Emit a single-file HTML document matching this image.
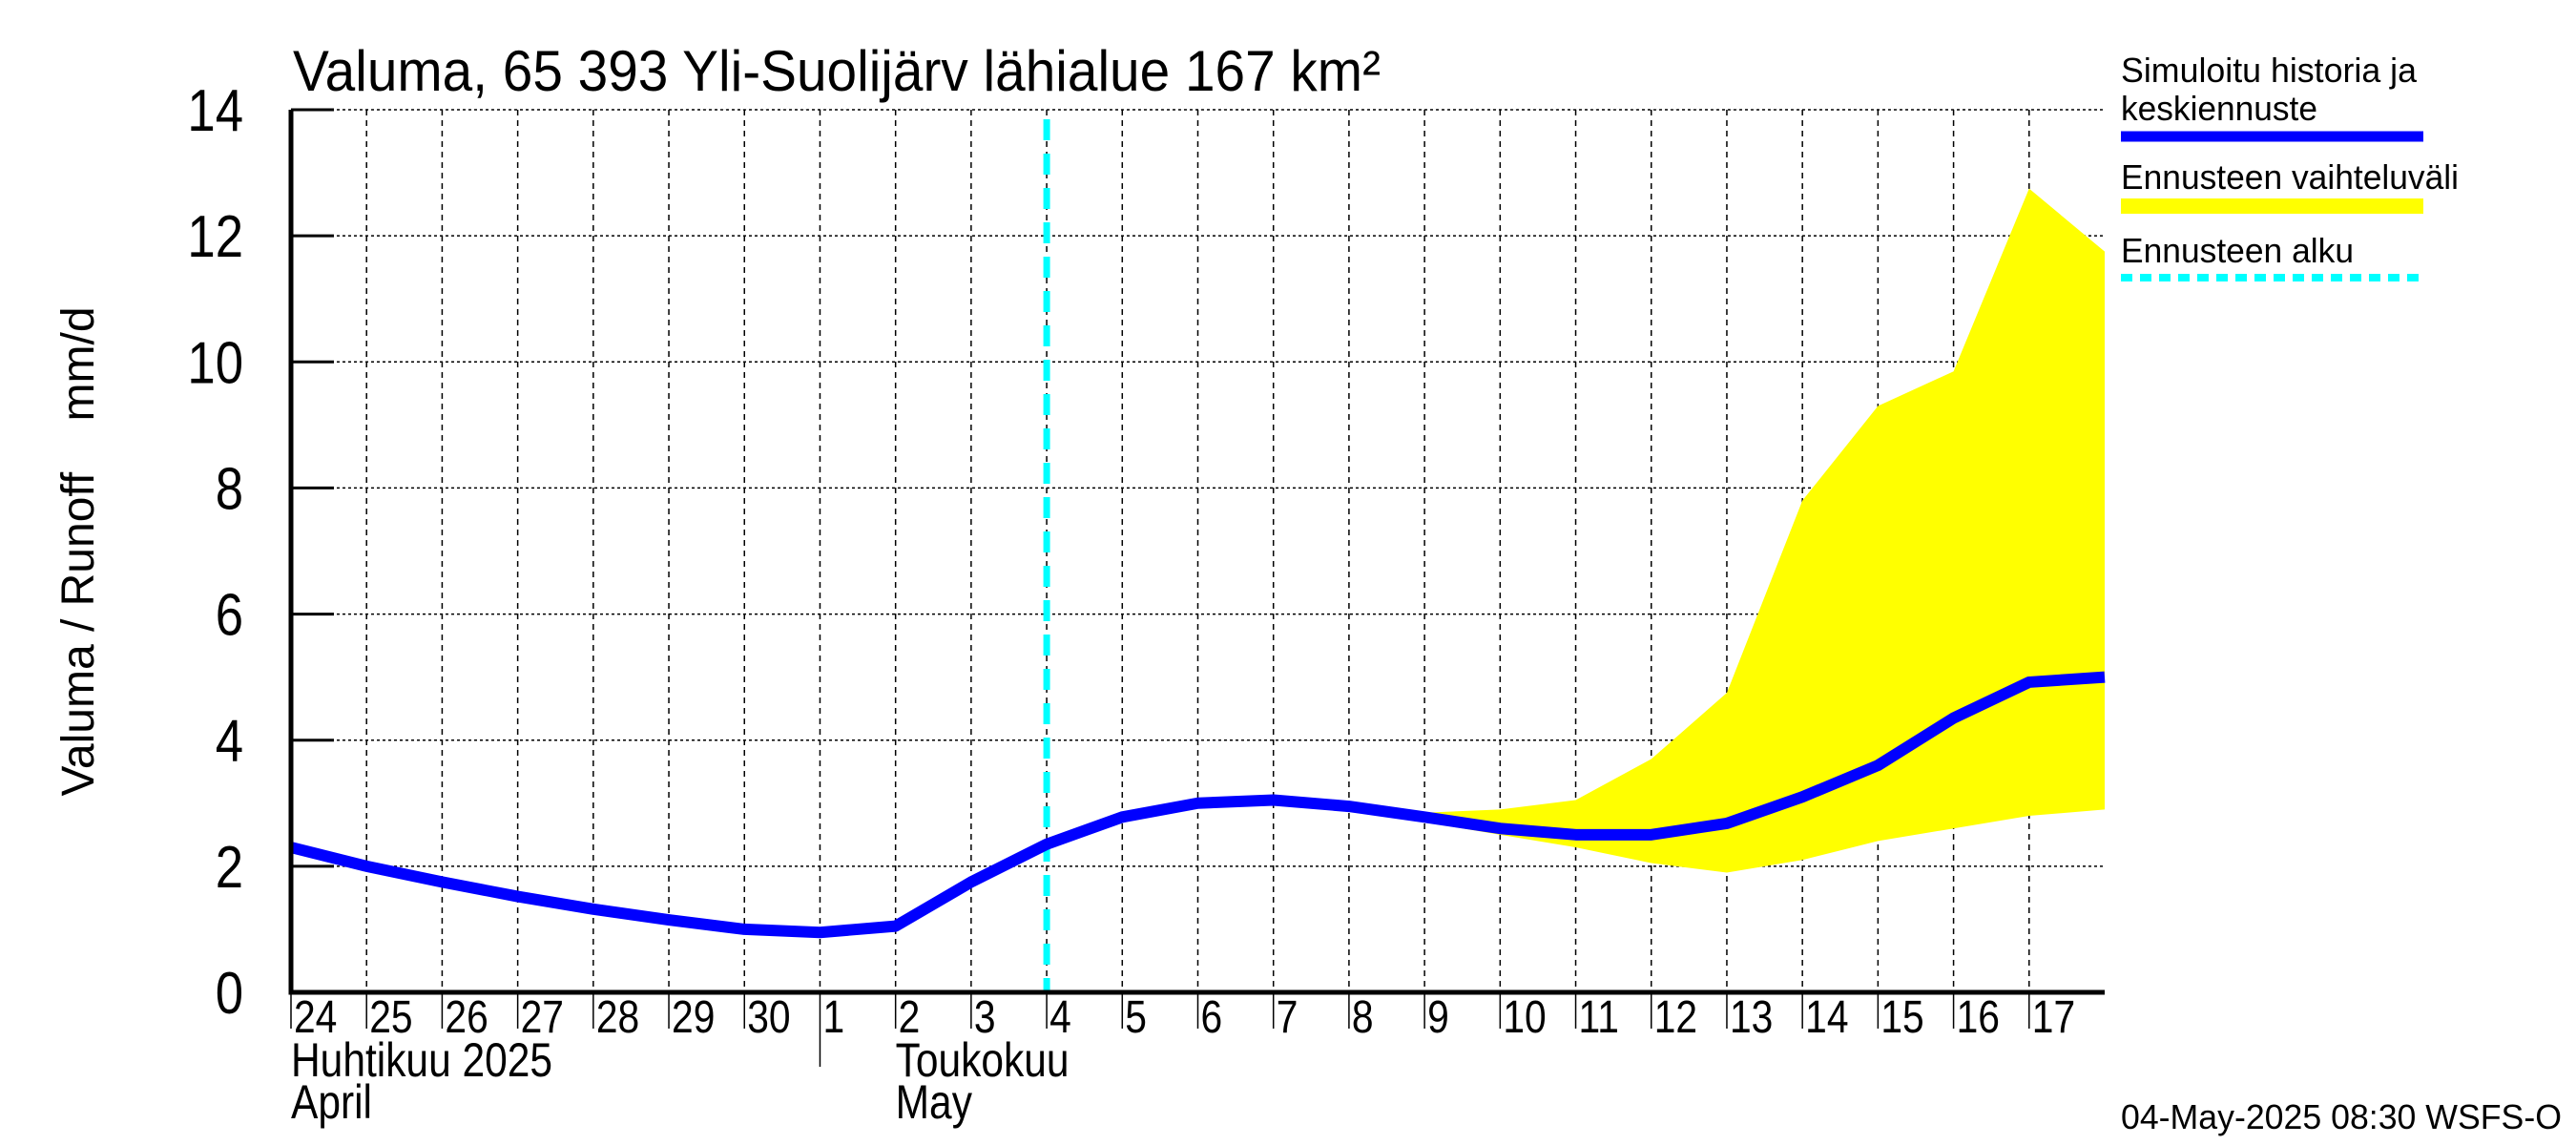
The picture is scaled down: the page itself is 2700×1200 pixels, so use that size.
<!DOCTYPE html>
<html><head><meta charset="utf-8"><style>
html,body{margin:0;padding:0;background:#fff;}
svg{display:block;font-family:"Liberation Sans",sans-serif;}
</style></head><body>
<svg id="chart" width="2700" height="1200" viewBox="0 0 2700 1200" xmlns="http://www.w3.org/2000/svg">
<text x="307" y="95" font-size="60" textLength="1140" lengthAdjust="spacingAndGlyphs">Valuma, 65 393 Yli-Suolijärv lähialue 167 km²</text>
<text transform="translate(98,578) rotate(-90)" text-anchor="middle" font-size="48" xml:space="preserve">Valuma / Runoff    mm/d</text>
<g id="grid"></g>
<g id="band"></g>
<g id="marks"></g>
<g id="axes"></g>
<g>
<text x="2223" y="86" font-size="36" textLength="310" lengthAdjust="spacingAndGlyphs">Simuloitu historia ja</text>
<text x="2223" y="126" font-size="36" textLength="206" lengthAdjust="spacingAndGlyphs">keskiennuste</text>
<line x1="2223" y1="143" x2="2540" y2="143" stroke="#0000ff" stroke-width="11"/>
<text x="2223" y="198" font-size="36" textLength="354" lengthAdjust="spacingAndGlyphs">Ennusteen vaihteluväli</text>
<rect x="2223" y="208" width="317" height="16" fill="#ffff00"/>
<text x="2223" y="275" font-size="36" textLength="244" lengthAdjust="spacingAndGlyphs">Ennusteen alku</text>
<line x1="2223" y1="291" x2="2540" y2="291" stroke="#00ffff" stroke-width="8" stroke-dasharray="12 8"/>
</g>
<text x="2223" y="1183" font-size="36" textLength="462" lengthAdjust="spacingAndGlyphs">04-May-2025 08:30 WSFS-O</text>
</svg>
<script>
const days=["24","25","26","27","28","29","30","1","2","3","4","5","6","7","8","9","10","11","12","13","14","15","16","17"];
const yTicks=[0,2,4,6,8,10,12,14];
const meanValues=[2.3,2.0,1.75,1.52,1.32,1.15,1.0,0.95,1.05,1.75,2.35,2.78,3.0,3.05,2.95,2.78,2.6,2.5,2.5,2.68,3.1,3.6,4.35,4.92,5.0];
const bandStart=12;
const bandUpper=[3.0,3.05,2.95,2.85,2.9,3.05,3.7,4.75,7.8,9.3,9.85,12.75,11.75];
const bandLower=[3.0,3.0,2.9,2.7,2.5,2.3,2.05,1.9,2.1,2.4,2.6,2.8,2.9];
const forecastStartDay=10;
const monthBreakDay=7;
const NS="http://www.w3.org/2000/svg";
const X0=305,X1=2206,Y0=1040,Y1=115,NDAYS=24;
const xs=d=>X0+(X1-X0)*d/NDAYS;
const ys=v=>Y0-(Y0-Y1)*v/14;
function mk(tag,attrs,parent){const e=document.createElementNS(NS,tag);for(const k in attrs)e.setAttribute(k,attrs[k]);parent.appendChild(e);return e;}
const grid=document.getElementById('grid'),axes=document.getElementById('axes'),band=document.getElementById('band'),marks=document.getElementById('marks');
yTicks.forEach(v=>{
 const l=mk('line',{x1:X0,x2:X1,y1:ys(v),y2:ys(v),stroke:'#000','stroke-width':1.5,'stroke-dasharray':'3 3'},grid);
 
 
 const t=mk('line',{x1:X0,x2:X0+45,y1:ys(v),y2:ys(v),stroke:'#000','stroke-width':3},axes);
 
 
 const tx=mk('text',{x:0,y:0,'font-size':62,'text-anchor':'end',transform:`translate(${X0-50},${ys(v)+22}) scale(0.85,1)`},axes);
 tx.textContent=v;
 
 
});
days.forEach((d,i)=>{
 const x=xs(i);
 if(i>0){const g=mk('line',{x1:x,x2:x,y1:Y1,y2:Y0,stroke:'#000','stroke-width':1.5,'stroke-dasharray':'6 5'},grid);
 
 }
 const t=mk('line',{x1:x,x2:x,y1:Y0,y2:i===monthBreakDay?1118:1078,stroke:'#000','stroke-width':1.5},axes);
 
 
 const tx=mk('text',{x:0,y:0,'font-size':48,transform:`translate(${x+3},${1082}) scale(0.85,1)`},axes);
 tx.textContent=d;
 
 
});
let pts=bandUpper.map((v,i)=>xs(bandStart+i)+','+ys(v));
pts=pts.concat(bandLower.map((v,i)=>xs(bandStart+i)+','+ys(v)).reverse());
const poly=mk('polygon',{points:pts.join(' '),fill:'#ffff00'},band);


const fl=mk('line',{x1:xs(forecastStartDay),x2:xs(forecastStartDay),y1:Y1+10,y2:Y0,stroke:'#00ffff','stroke-width':7,'stroke-dasharray':'22 14'},marks);


const ml=mk('polyline',{points:meanValues.map((v,i)=>xs(i)+','+ys(v)).join(' '),fill:'none',stroke:'#0000ff','stroke-width':12,'stroke-linejoin':'round'},marks);


const ax=mk('polyline',{points:`${X0},${Y1} ${X0},${Y0} ${X1},${Y0}`,fill:'none',stroke:'#000','stroke-width':5},axes);


[["Huhtikuu  2025",X0,1128,'month-label-april-fi'],["April",X0,1172,'month-label-april-en'],["Toukokuu",xs(8),1128,'month-label-may-fi'],["May",xs(8),1172,'month-label-may-en']].forEach(m=>{
 const t=mk('text',{x:0,y:0,'font-size':50,'xml:space':'preserve',transform:`translate(${m[1]},${m[2]}) scale(0.85,1)`},axes);
 t.textContent=m[0];
 
 
});
</script>
</body></html>
